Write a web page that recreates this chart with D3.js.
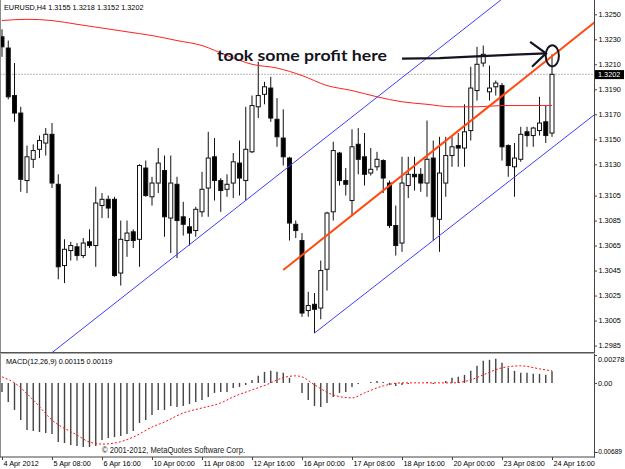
<!DOCTYPE html>
<html>
<head>
<meta charset="utf-8">
<script src="https://cdn.jsdelivr.net/npm/d3@7/dist/d3.min.js"></script>
<style>
body { margin: 0; background: #fff; }
svg { display: block; }
text { font-family: "Liberation Sans", Arial, sans-serif; }
</style>
</head>
<body>
<div id="container"></div>
<script>
var width = 625;
var height = 469;

// EURUSD H4, bar 0 = 4 Apr 2012 00:00
var opens = [1.3232,1.3223,1.3185,1.3171,1.3117,1.3134,1.3142,1.3147,1.3154,1.3114,
  1.3049,1.3061,1.3064,1.3057,1.3068,1.3065,1.3097,1.3102,1.3102,1.3043,
  1.3069,1.3076,1.3070,1.3127,1.3104,1.3115,1.3125,1.3087,1.3114,1.3088,
  1.3080,1.3077,1.3092,1.3111,1.3136,1.3117,1.3110,1.3115,1.3131,1.3117,
  1.3140,1.3176,1.3186,1.3191,1.3166,1.3151,1.3135,1.3082,1.3069,1.3013,
  1.3018,1.3015,1.3046,1.3092,1.3139,1.3117,1.3101,1.3146,1.3136,1.3123,
  1.3128,1.3133,1.3115,1.3081,1.3067,1.3113,1.3122,1.3122,1.3115,1.3135,
  1.3086,1.3115,1.3137,1.3145,1.3143,1.3157,1.3189,1.3211,1.3188,1.3192,
  1.3193,1.3145,1.3128,1.3134,1.3156,1.3153,1.3157,1.3164,1.3155];
var highs = [1.3238,1.3229,1.3211,1.3176,1.3145,1.3146,1.3153,1.3159,1.3163,1.3122,
  1.3070,1.3068,1.3067,1.3071,1.3078,1.3112,1.3107,1.3105,1.3104,1.3085,
  1.3085,1.3078,1.3130,1.3133,1.3120,1.3143,1.3137,1.3137,1.3120,1.3100,
  1.3087,1.3096,1.3124,1.3156,1.3151,1.3119,1.3122,1.3139,1.3149,1.3176,
  1.3185,1.3212,1.3196,1.3200,1.3183,1.3174,1.3136,1.3085,1.3075,1.3028,
  1.3027,1.3053,1.3092,1.3148,1.3140,1.3127,1.3158,1.3159,1.3155,1.3143,
  1.3140,1.3134,1.3117,1.3097,1.3136,1.3136,1.3136,1.3127,1.3165,1.3149,
  1.3152,1.3152,1.3152,1.3155,1.3178,1.3208,1.3224,1.3225,1.3209,1.3197,
  1.3195,1.3146,1.3147,1.3160,1.3160,1.3160,1.3184,1.3177,1.3218];
var lows = [1.3216,1.3182,1.3164,1.3108,1.3107,1.3127,1.3135,1.3137,1.3111,1.3038,
  1.3035,1.3053,1.3053,1.3055,1.3063,1.3048,1.3087,1.3087,1.3040,1.3033,
  1.3056,1.3063,1.3048,1.3104,1.3097,1.3107,1.3072,1.3059,1.3055,1.3073,
  1.3065,1.3072,1.3088,1.3088,1.3101,1.3092,1.3104,1.3103,1.3105,1.3101,
  1.3139,1.3167,1.3178,1.3164,1.3144,1.3129,1.3069,1.3071,1.3008,1.3008,
  1.2995,1.3006,1.3029,1.3085,1.3113,1.3105,1.3089,1.3122,1.3113,1.3121,
  1.3125,1.3107,1.3079,1.3057,1.3060,1.3103,1.3109,1.3108,1.3104,1.3069,
  1.3060,1.3104,1.3128,1.3128,1.3128,1.3149,1.3181,1.3208,1.3181,1.3185,
  1.3133,1.3120,1.3104,1.3132,1.3144,1.3144,1.3153,1.3147,1.3152];
var closes = [1.3224,1.3184,1.3171,1.3118,1.3136,1.3141,1.3149,1.3154,1.3115,1.3048,
  1.3062,1.3065,1.3057,1.3067,1.3065,1.3099,1.3102,1.3095,1.3041,1.3070,
  1.3075,1.3069,1.3129,1.3105,1.3115,1.3131,1.3088,1.3115,1.3085,1.3082,
  1.3075,1.3094,1.3110,1.3135,1.3117,1.3109,1.3114,1.3132,1.3119,1.3142,
  1.3177,1.3185,1.3192,1.3167,1.3152,1.3136,1.3083,1.3077,1.3011,1.3017,
  1.3014,1.3045,1.3091,1.3141,1.3117,1.3114,1.3144,1.3134,1.3122,1.3126,
  1.3134,1.3119,1.3081,1.3065,1.3115,1.3122,1.3120,1.3115,1.3134,1.3088,
  1.3123,1.3137,1.3144,1.3143,1.3156,1.3191,1.3210,1.3218,1.3191,1.3195,
  1.3144,1.3129,1.3135,1.3154,1.3153,1.3159,1.3163,1.3153,1.3202];

// moving average (red), read every 4 bars
var maBars = [0,4,8,12,16,20,24,28,32,36,40,44,48,52,56,60,64,68,72,76,80,84,88];
var maVals = [1.3245,1.3246,1.3245,1.3242,1.3239,1.3236,1.3233,1.3229,1.3225,1.3217,
  1.3210,1.3207,1.3201,1.3193,1.3189,1.3184,1.3180,1.3178,1.3176,1.3176,1.3177,1.3177,1.3177];

// MACD(12,26,9) main histogram
var macdVals = [-0.0009,-0.0019,-0.0027,-0.0037,-0.0047,-0.0048,-0.0049,-0.0050,-0.0051,-0.0059,
  -0.0060,-0.0062,-0.0063,-0.0064,-0.0064,-0.0063,-0.0057,-0.0055,-0.0054,-0.0053,
  -0.0051,-0.0048,-0.0040,-0.0037,-0.0032,-0.0027,-0.0027,-0.0023,-0.0024,-0.0023,
  -0.0021,-0.0019,-0.0017,-0.0014,-0.0010,-0.0009,-0.0009,-0.0005,-0.0004,-0.0002,
  0.0003,0.0007,0.0011,0.0012,0.0011,0.0010,0.0005,0.0000,-0.0010,-0.0017,
  -0.0023,-0.0024,-0.0020,-0.0014,-0.0010,-0.0009,-0.0004,-0.0001,0.0000,0.0001,
  0.0002,0.0001,-0.0002,-0.0003,-0.0002,-0.0001,0.0000,0.0000,0.0001,-0.0001,
  0.0000,0.0002,0.0005,0.0006,0.0008,0.0012,0.0017,0.0022,0.0023,0.0024,
  0.0020,0.0015,0.0012,0.0010,0.0010,0.0009,0.0009,0.0008,0.00115];
// signal line
var sigBars = [0,2,5,8,12,14,16,18,21,24,26,29,32,35,37,40,43,44,47,48,50,53,56,58,61,64,69,72,75,77,80,83,86,88];
var sigVals = [0.0006,0.0000,-0.0017,-0.0037,-0.0052,-0.0059,-0.0061,-0.0060,-0.0054,-0.0044,
  -0.0039,-0.0030,-0.0025,-0.0020,-0.0014,-0.0007,0.0000,0.0003,0.0007,0.0006,
  -0.0002,-0.0012,-0.0015,-0.0010,-0.0003,0.0000,0.0000,0.0000,0.0003,0.0008,
  0.0015,0.0017,0.0014,0.00119];

// trend lines [bar, price]
var channelUpper = [[28, 1.30579], [76, 1.32465]];
var channelLower = [[50, 1.2995], [88, 1.31432]];
var orangeLine = [[45, 1.30454], [88, 1.32165]];

// axis labels
var priceTicks = [1.3250,1.3230,1.3210,1.3190,1.3170,1.3150,1.3130,1.3105,1.3085,1.3065,1.3045,1.3025,1.3005,1.2985];
var macdTicks = [0.00278, 0, -0.00689];
var macdTickLabels = ["0.00278", "0.00", "-0.00689"];
var timeBars = [0,8,16,24,32,40,48,56,64,72,80,88];
var timeLabels = ["4 Apr 2012","5 Apr 08:00","6 Apr 16:00","10 Apr 00:00","11 Apr 08:00","12 Apr 16:00",
  "16 Apr 00:00","17 Apr 08:00","18 Apr 16:00","20 Apr 00:00","23 Apr 08:00","24 Apr 16:00"];

// hand drawn note [bar, price]
var arrowPath = [[64, 1.32146], [70, 1.32150], [75, 1.32162], [80.3, 1.32174], [87.04, 1.32188]];
var arrowHead = [[84.5, 1.32280], [87.04, 1.32188], [84.8, 1.32080]];
var circleAt = [88.05, 1.32168];
var noteAt = [34.4, 1.32126];

var plotRight = 594;
var mainBottom = 352;

var x = d3.scaleLinear().domain([0, 88]).range([2, 552]);
var y = d3.scaleLinear().domain([1.2985, 1.3250]).range([345.55, 14.3]);
var ym = d3.scaleLinear().domain([-0.00689, 0.00278]).range([452, 355]);

var svg = d3.select("#container").append("svg")
  .attr("width", width).attr("height", height);

svg.append("rect").attr("width", width).attr("height", height).attr("fill", "#fff");

svg.append("clipPath").attr("id", "mainClip")
  .append("rect").attr("x", 1).attr("y", 0).attr("width", plotRight - 1).attr("height", mainBottom);
svg.append("clipPath").attr("id", "macdClip")
  .append("rect").attr("x", 1).attr("y", 354).attr("width", plotRight - 1).attr("height", 103);

var main = svg.append("g").attr("clip-path", "url(#mainClip)");

// bid line
main.append("line")
  .attr("x1", 0).attr("x2", plotRight)
  .attr("y1", y(closes[88])).attr("y2", y(closes[88]))
  .attr("stroke", "#b8b8b8").attr("stroke-dasharray", "2,1");

// candles
var idx = d3.range(opens.length);
main.selectAll(".wick").data(idx).enter().append("line")
  .attr("x1", function(i) { return x(i); })
  .attr("x2", function(i) { return x(i); })
  .attr("y1", function(i) { return y(highs[i]); })
  .attr("y2", function(i) { return y(lows[i]); })
  .attr("stroke", "#111").attr("stroke-width", 1);

main.selectAll(".body").data(idx).enter().append("rect")
  .attr("x", function(i) { return x(i) - 2; })
  .attr("y", function(i) { return y(Math.max(opens[i], closes[i])); })
  .attr("width", 4)
  .attr("height", function(i) { return Math.max(0.6, Math.abs(y(opens[i]) - y(closes[i]))); })
  .attr("fill", function(i) { return closes[i] < opens[i] ? "#000" : "#fff"; })
  .attr("stroke", "#111").attr("stroke-width", 1);

// moving average
var maLine = d3.line()
  .x(function(d, k) { return x(maBars[k]); })
  .y(function(d) { return y(d); })
  .curve(d3.curveMonotoneX);
main.append("path").datum(maVals)
  .attr("d", maLine)
  .attr("fill", "none").attr("stroke", "#ff2020").attr("stroke-width", 1);

// trend lines, extended to the chart edges
function drawTrend(pts, color, w, extendLeft) {
  var x0 = x(pts[0][0]), y0 = y(pts[0][1]);
  var x1 = x(pts[1][0]), y1 = y(pts[1][1]);
  var slope = (y1 - y0) / (x1 - x0);
  var xa = extendLeft ? -50 : x0;
  var xb = plotRight + 20;
  main.append("line")
    .attr("x1", xa).attr("y1", y0 + slope * (xa - x0))
    .attr("x2", xb).attr("y2", y0 + slope * (xb - x0))
    .attr("stroke", color).attr("stroke-width", w);
}
drawTrend(channelUpper, "#3c3cff", 1, true);
drawTrend(channelLower, "#3c3cff", 1, false);
drawTrend(orangeLine, "#ff4a10", 2, false);

// note: took some profit
var note = svg.append("g");
note.append("text")
  .attr("x", x(noteAt[0])).attr("y", y(noteAt[1]))
  .attr("textLength", 170).attr("lengthAdjust", "spacingAndGlyphs")
  .style("font-family", "Lato, 'Open Sans', sans-serif")
  .style("font-weight", "700").style("font-size", "15.5px")
  .attr("fill", "#141420")
  .text("took some profit here");

var pen = d3.line()
  .x(function(d) { return x(d[0]); })
  .y(function(d) { return y(d[1]); });
note.append("path").datum(arrowPath).attr("d", pen)
  .attr("fill", "none").attr("stroke", "#141420").attr("stroke-width", 2.2);
note.append("path").datum(arrowHead).attr("d", pen)
  .attr("fill", "none").attr("stroke", "#141420").attr("stroke-width", 2.2);
note.append("ellipse")
  .attr("cx", x(circleAt[0])).attr("cy", y(circleAt[1]))
  .attr("rx", 6.6).attr("ry", 10.6)
  .attr("fill", "none").attr("stroke", "#141420").attr("stroke-width", 2);

// header
svg.append("text").attr("x", 4).attr("y", 10.2)
  .style("font-size", "7.3px").attr("fill", "#000")
  .text("EURUSD,H4  1.3155 1.3218 1.3152 1.3202");

// MACD panel
var macd = svg.append("g").attr("clip-path", "url(#macdClip)");
macd.selectAll(".hist").data(idx).enter().append("line")
  .attr("x1", function(i) { return x(i); })
  .attr("x2", function(i) { return x(i); })
  .attr("y1", ym(0))
  .attr("y2", function(i) { return ym(macdVals[i]); })
  .attr("stroke", "#444").attr("stroke-width", 1.4);

var sigLine = d3.line()
  .x(function(d, k) { return x(sigBars[k]); })
  .y(function(d) { return ym(d); })
  .curve(d3.curveMonotoneX);
macd.append("path").datum(sigVals)
  .attr("d", sigLine)
  .attr("fill", "none").attr("stroke", "#ff1010")
  .attr("stroke-width", 1).attr("stroke-dasharray", "2,2");

svg.append("text").attr("x", 6).attr("y", 363.7)
  .style("font-size", "7.3px").attr("fill", "#000")
  .text("MACD(12,26,9) 0.00115 0.00119");

svg.append("text").attr("x", 102).attr("y", 452.5)
  .attr("textLength", 143).attr("lengthAdjust", "spacingAndGlyphs")
  .style("font-size", "8.6px").attr("fill", "#222")
  .text("\u00a9 2001-2012, MetaQuotes Software Corp.");

// frame
svg.append("line").attr("x1", 0.5).attr("x2", 0.5).attr("y1", 0).attr("y2", 457)
  .attr("stroke", "#8c8c8c").attr("stroke-width", 1);
svg.append("line").attr("x1", plotRight + 0.5).attr("x2", plotRight + 0.5).attr("y1", 0).attr("y2", 457.5)
  .attr("stroke", "#444").attr("stroke-width", 1);
svg.append("line").attr("x1", 0).attr("x2", plotRight + 1).attr("y1", 352.5).attr("y2", 352.5)
  .attr("stroke", "#555").attr("stroke-width", 1);
svg.append("line").attr("x1", 0).attr("x2", plotRight + 1).attr("y1", 353.5).attr("y2", 353.5)
  .attr("stroke", "#aaa").attr("stroke-width", 1);
svg.append("line").attr("x1", 0).attr("x2", plotRight + 1).attr("y1", 457).attr("y2", 457)
  .attr("stroke", "#444").attr("stroke-width", 1);

// price axis
var priceAxis = svg.append("g")
  .attr("transform", "translate(" + (plotRight + 1) + ",0)")
  .call(d3.axisRight(y).tickValues(priceTicks).tickSize(2).tickPadding(1.5).tickFormat(d3.format(".4f")));
priceAxis.select(".domain").remove();
priceAxis.selectAll("text").style("font-size", "7.3px").attr("fill", "#000");
priceAxis.selectAll("line").attr("stroke", "#444");

// current price box
svg.append("rect").attr("x", plotRight + 1).attr("y", y(closes[88]) - 4.2)
  .attr("width", 29).attr("height", 9).attr("fill", "#000");
svg.append("text").attr("x", plotRight + 4).attr("y", y(closes[88]) + 2.7)
  .style("font-size", "7.3px").attr("fill", "#fff")
  .text(d3.format(".4f")(closes[88]));

// macd axis
var macdAxis = svg.append("g")
  .attr("transform", "translate(" + (plotRight + 1) + ",0)")
  .call(d3.axisRight(ym).tickValues(macdTicks).tickSize(2).tickPadding(1)
    .tickFormat(function(d, k) { return macdTickLabels[k]; }));
macdAxis.select(".domain").remove();
macdAxis.selectAll("text").attr("fill", "#000")
  .style("font-size", function(d, k) { return k === 2 ? "6.6px" : "7.3px"; })
  .attr("x", function(d, k) { return k === 2 ? 1 : 3; })
  .attr("dy", function(d, k) { return k === 0 ? "0.85em" : (k === 2 ? "0.2em" : "0.32em"); });
macdAxis.selectAll("line").attr("stroke", "#444");

// time axis
var timeAxis = svg.append("g")
  .attr("transform", "translate(0,457)")
  .call(d3.axisBottom(x).tickValues(timeBars).tickSize(3).tickPadding(1)
    .tickFormat(function(d, k) { return timeLabels[k]; }));
timeAxis.select(".domain").remove();
timeAxis.selectAll("text").style("font-size", "7.3px").attr("fill", "#000")
  .attr("text-anchor", "start").attr("x", 1).attr("dy", "0.75em");
timeAxis.selectAll("line").attr("stroke", "#444");
</script>
</body>
</html>
